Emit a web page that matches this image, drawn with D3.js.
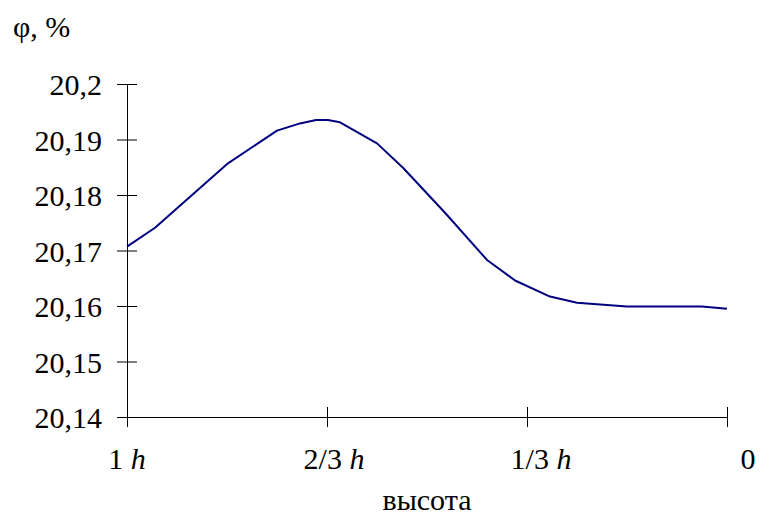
<!DOCTYPE html>
<html>
<head>
<meta charset="utf-8">
<script src="https://cdn.jsdelivr.net/npm/d3@7"></script>
</head>
<body style="margin:0">
<svg id="chart" width="763" height="516"></svg>
<script>
// Height fraction (1 = top h, 0 = bottom)
const heightFrac = [1, 0.9533, 0.8317, 0.75, 0.7117, 0.685, 0.665, 0.645, 0.5833, 0.54, 0.47, 0.4, 0.3533, 0.295, 0.25, 0.1667, 0.0417, 0];
// φ, %
const phiValues = [20.1707, 20.1741, 20.1857, 20.1916, 20.1929, 20.1935, 20.1935, 20.1931, 20.1893, 20.1849, 20.1768, 20.1683, 20.1646, 20.1617, 20.1606, 20.1599, 20.1599, 20.1595];
const yTicks = [20.14, 20.15, 20.16, 20.17, 20.18, 20.19, 20.2];
const yTickLabels = ["20,14", "20,15", "20,16", "20,17", "20,18", "20,19", "20,2"];
const xTicks = [1, 2/3, 1/3, 0];
const xTickLabels = [["1", " h"], ["2/3", " h"], ["1/3", " h"], ["0", ""]];
const yTitle = "φ, %";
const xTitle = "высота";

const FONT = "'Liberation Serif', monospace";
const svg = d3.select("#chart");
const mLeft = 127, mRight = 727, mTop = 84, mBottom = 417;
const fontSize = 30;

const x = d3.scaleLinear().domain([1, 0]).range([mLeft, mRight]);
const y = d3.scaleLinear().domain([20.14, 20.2]).range([mBottom, mTop]);
// tick labels are spaced slightly wider than the ticks in the original
const xLabel = d3.scaleLinear().domain([1, 0]).range([mLeft, mRight + 21]);

// Y axis
const yAxis = svg.append("g").attr("transform", `translate(${mLeft},0)`)
  .call(d3.axisLeft(y).tickValues(yTicks).tickSize(10).tickSizeOuter(0).tickFormat(""));
yAxis.select(".domain").attr("stroke", "#000").attr("d", `M0.5,${mTop}V${mBottom}`);
yAxis.selectAll(".tick line").attr("stroke", "#000").attr("x1", 10).attr("x2", -10);

// X axis
const xAxis = svg.append("g").attr("transform", `translate(0,${mBottom})`)
  .call(d3.axisBottom(x).tickValues(xTicks).tickSize(10).tickSizeOuter(0).tickFormat(""));
xAxis.select(".domain").attr("stroke", "#000");
xAxis.selectAll(".tick line").attr("stroke", "#000").attr("y1", (d) => d === 1 ? 0 : -10).attr("y2", 10);

// Y tick labels
svg.append("g").selectAll("text").data(yTicks).join("text")
  .attr("x", mLeft - 25).attr("y", d => y(d) + 11)
  .attr("text-anchor", "end")
  .style("font-family", FONT)
  .style("font-size", fontSize + "px")
  .text((d, i) => yTickLabels[i]);

// X tick labels
const labels = svg.append("g").selectAll("text").data(xTicks).join("text")
  .attr("x", d => xLabel(d))
  .attr("y", mBottom + 52)
  .attr("text-anchor", "middle")
  .style("font-family", FONT)
  .style("font-size", fontSize + "px");
labels.append("tspan").text((d, i) => xTickLabels[i][0]);
labels.append("tspan").style("font-style", "italic").text((d, i) => xTickLabels[i][1]);

// Titles
svg.append("text").attr("x", 13).attr("y", 37)
  .style("font-family", FONT).style("font-size", fontSize + "px").text(yTitle);
svg.append("text").attr("x", (mLeft + mRight) / 2).attr("y", 510).attr("text-anchor", "middle")
  .style("font-family", FONT).style("font-size", fontSize + "px").text(xTitle);

// Line
const data = heightFrac.map((h, i) => ({ h, v: phiValues[i] }));
svg.append("path").datum(data)
  .attr("fill", "none").attr("stroke", "#000080").attr("stroke-width", 2)
  .attr("stroke-linejoin", "round")
  .attr("d", d3.line().x(d => x(d.h)).y(d => y(d.v)));
</script>
</body>
</html>
